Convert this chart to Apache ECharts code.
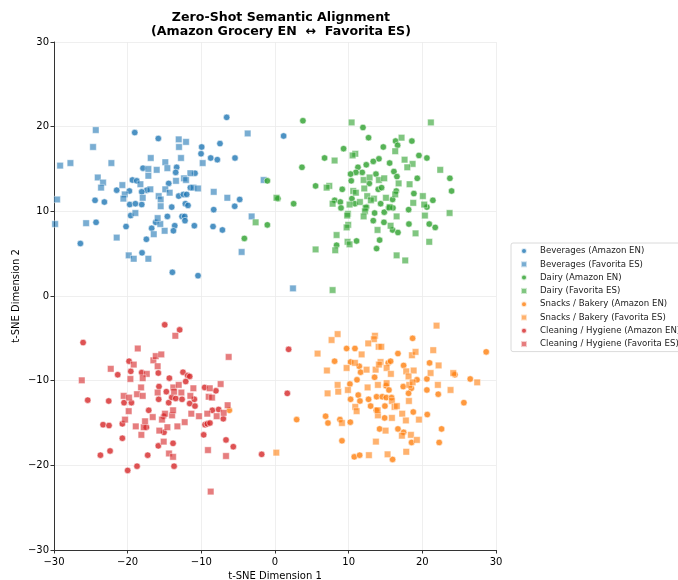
<!DOCTYPE html>
<html><head><meta charset="utf-8">
<script src="https://cdn.jsdelivr.net/npm/echarts@6/dist/echarts.min.js"></script>
<style>html,body{margin:0;padding:0;background:#fff}#c{width:678px;height:580px}</style>
</head><body><div id="c"></div>
<script>
const titleLines = ["Zero-Shot Semantic Alignment", "(Amazon Grocery EN  \u2194  Favorita ES)"];
const xName = "t-SNE Dimension 1";
const yName = "t-SNE Dimension 2";
const axisMin = -30, axisMax = 30, axisStep = 10;

const bevEN = [[-6.56,21.1],[-19.04,19.3],[-15.84,18.6],[-9.95,17.6],[-7.47,18.0],[-10.04,16.8],[-8.73,16.3],[-7.83,16.1],[-5.43,16.3],[-17.92,15.1],[-13.35,15.2],[-13.48,14.6],[-10.86,14.5],[-19.36,13.7],[-18.77,13.6],[-14.43,13.3],[-17.41,12.5],[-18.09,12.3],[-19.77,12.4],[-21.49,12.5],[-24.43,11.3],[-23.16,11.1],[-19.72,10.8],[-18.95,10.9],[-18.09,10.8],[-14.02,10.5],[-13.07,11.8],[-12.44,12.0],[-11.99,12.0],[-12.17,10.9],[-11.81,10.7],[-11.49,12.8],[-14.61,9.4],[-12.62,9.4],[-12.26,9.4],[-12.22,8.9],[-10.95,8.3],[-16.19,8.7],[-16.74,8.0],[-17.46,6.7],[-20.22,8.2],[-24.29,8.7],[-26.42,6.2],[-19.59,9.5],[-13.61,8.3],[-13.79,7.7],[-18.05,5.1],[-13.93,2.8],[-10.45,2.4],[-8.32,10.2],[-8.41,8.2],[-7.14,7.8],[-5.47,10.6],[-4.79,11.4],[1.17,18.9]];
const bevES = [[-24.33,19.6],[-24.7,17.6],[-29.17,15.4],[-27.77,15.7],[-22.21,15.7],[-24.06,14.0],[-23.34,13.4],[-23.61,12.8],[-20.72,13.1],[-20.4,12.0],[-20.58,11.5],[-17.96,11.6],[-17.19,15.0],[-17.19,14.2],[-16.06,14.9],[-14.89,15.8],[-14.61,15.1],[-16.87,16.3],[-13.07,18.5],[-12.08,18.2],[-13.03,17.6],[-12.76,16.3],[-9.82,15.7],[-11.49,14.5],[-12.35,13.9],[-13.44,13.6],[-12.08,13.7],[-11.08,12.8],[-10.45,12.7],[-8.32,12.3],[-14.89,12.6],[-14.3,12.2],[-15.79,11.8],[-15.52,11.4],[-15.52,10.6],[-16.92,12.6],[-18.27,13.2],[-29.58,11.4],[-25.64,8.6],[-29.85,8.5],[-21.49,6.9],[-19.86,4.8],[-19.18,4.4],[-17.19,4.4],[-16.46,7.3],[-14.98,7.7],[-15.57,8.5],[-15.93,9.2],[-18.95,9.8],[-6.47,11.6],[-3.71,19.2],[-1.54,13.7],[-3.17,9.4],[-4.53,5.2],[2.44,0.9]];
const dairyEN = [[3.79,20.7],[11.94,19.9],[12.7,18.7],[14.7,17.6],[16.37,18.3],[16.64,17.8],[18.58,18.3],[9.31,17.4],[6.73,16.3],[3.66,15.2],[19.54,16.6],[20.62,16.3],[14.11,16.2],[13.34,15.9],[12.39,15.5],[11.26,15.2],[15.56,15.7],[11.84,14.6],[10.98,14.6],[10.26,14.4],[13.7,14.4],[16.14,14.7],[16.55,14.1],[19.31,13.9],[23.74,13.9],[10.35,13.6],[12.8,13.3],[14.02,12.6],[14.47,12.8],[9.13,12.6],[5.51,13.0],[-1.04,13.6],[0.4,11.5],[2.53,10.9],[23.97,12.4],[18.85,12.1],[21.43,11.3],[16.46,12.4],[15.96,11.4],[10.44,11.5],[8.1,11.3],[8.87,11.1],[8.96,10.4],[10.85,10.9],[12.43,10.5],[14.34,10.9],[13.52,9.8],[14.83,9.9],[15.42,10.4],[16.01,10.4],[18.14,10.2],[20.62,10.5],[13.34,8.9],[14.79,8.7],[15.96,7.8],[16.69,7.5],[18.18,8.5],[20.94,8.5],[21.75,8.1],[-1.04,8.4],[14.2,6.6],[11.07,6.5],[8.36,6.0],[13.79,5.6],[-4.16,6.8]];
const dairyES = [[10.4,20.5],[21.16,20.5],[17.18,18.7],[16.32,17.1],[10.9,16.8],[10.53,16.6],[8.09,16.0],[17.59,16.1],[18.68,15.6],[17.96,15.2],[22.43,14.9],[12.03,13.7],[12.84,14.0],[14.11,13.7],[14.83,13.9],[16.78,13.3],[18.27,13.2],[7.37,13.0],[7.01,12.8],[12.12,12.7],[10.62,12.4],[10.98,12.2],[12.52,11.8],[13.43,11.5],[13.02,11.3],[15.06,11.6],[16.32,12.0],[20.07,11.8],[18.77,11.0],[20.26,10.8],[10.12,10.8],[11.53,11.1],[7.82,10.9],[12.3,10.4],[12.21,10.0],[12.03,9.4],[9.9,9.7],[9.8,9.5],[15.56,10.5],[16.51,9.4],[20.35,9.5],[23.7,9.8],[15.69,8.3],[9.94,8.4],[9.72,8.1],[13.92,7.8],[8.36,7.2],[19.08,7.4],[9.85,6.4],[10.12,6.1],[20.94,6.4],[5.51,5.5],[8.18,5.4],[16.51,4.8],[17.68,4.2],[7.82,0.7],[-2.63,8.7],[0.2,11.6]];
const snackEN = [[18.68,-5.0],[9.72,-6.2],[10.85,-6.2],[16.69,-6.8],[8.09,-7.7],[10.26,-7.8],[11.44,-8.3],[11.62,-9.0],[15.37,-7.9],[15.69,-7.7],[17.46,-8.2],[20.98,-7.9],[24.42,-9.3],[28.67,-6.6],[11.13,-9.9],[13.52,-9.6],[10.17,-10.4],[15.06,-10.6],[15.47,-11.1],[17.41,-10.7],[18.5,-10.9],[19.27,-9.9],[20.62,-9.8],[20.62,-11.1],[22.16,-11.6],[26.5,-9.8],[25.64,-12.6],[18.13,-11.5],[11.3,-11.7],[10.26,-12.2],[11.53,-12.4],[12.7,-12.2],[13.79,-11.9],[14.56,-11.9],[15.1,-12.0],[15.82,-12.0],[12.98,-13.0],[13.75,-13.5],[14.92,-13.0],[18.77,-13.7],[20.67,-14.0],[14.88,-14.4],[6.87,-14.2],[7.19,-15.0],[8.82,-14.6],[10.22,-14.9],[2.94,-14.6],[14.2,-15.7],[16.69,-15.7],[17.46,-16.1],[22.61,-15.7],[9.09,-17.1],[18.54,-17.3],[22.29,-17.3],[10.76,-19.0],[11.49,-18.8],[15.96,-19.3],[-6.2,-13.5]];
const snackES = [[21.93,-3.5],[8.5,-4.5],[7.68,-5.2],[13.57,-4.7],[13.43,-5.1],[12.66,-5.6],[14.07,-6.0],[14.43,-6.0],[5.78,-6.8],[11.76,-6.9],[18.59,-7.0],[19.08,-6.6],[21.48,-6.4],[7.05,-8.8],[9.72,-8.5],[10.85,-7.9],[12.43,-8.7],[13.66,-8.7],[14.33,-7.8],[14.11,-8.1],[15.15,-8.5],[15.73,-9.2],[17.82,-8.9],[18.82,-8.8],[18.13,-9.5],[21.12,-9.1],[22.21,-8.2],[24.2,-9.1],[27.45,-10.2],[8.5,-10.5],[8.59,-11.3],[9.9,-11.1],[7.14,-11.5],[12.57,-10.8],[13.97,-10.5],[15.15,-10.3],[18.23,-10.5],[18.68,-10.2],[22.11,-10.5],[23.83,-11.1],[15.87,-12.4],[18.18,-12.4],[10.9,-13.1],[11.08,-13.6],[13.97,-14.1],[13.93,-13.5],[16.23,-13.1],[16.54,-13.0],[17.27,-13.9],[17.77,-14.7],[19.54,-14.6],[15.87,-14.4],[9.09,-15.0],[15.01,-15.9],[17.23,-16.5],[18.45,-16.4],[19.26,-17.0],[13.7,-17.2],[15.28,-18.7],[17.82,-18.4],[12.75,-18.8],[0.18,-18.5]];
const cleanEN = [[-14.97,-3.4],[-12.94,-4.0],[-26.05,-5.5],[-19.81,-7.7],[-19.58,-8.9],[-21.35,-9.3],[-18.1,-9.05],[-15.84,-9.1],[-14.34,-9.7],[-12.49,-9.0],[-11.86,-9.4],[-11.58,-9.5],[-12.12,-10.1],[-15.75,-10.7],[-14.75,-11.3],[-9.55,-10.8],[-8.02,-11.2],[-25.42,-12.3],[-22.57,-12.4],[-20.49,-12.6],[-19.49,-12.6],[-15.79,-12.2],[-14.43,-12.6],[-14.02,-11.97],[-13.48,-12.1],[-12.62,-12.2],[-11.58,-12.7],[-10.95,-12.2],[-10.86,-13.0],[-17.14,-13.5],[-15.11,-14.2],[-8.51,-13.5],[-7.65,-13.4],[-7.02,-14.5],[-23.34,-15.2],[-22.53,-15.3],[-20.72,-15.1],[-17.46,-15.5],[-15.07,-16.1],[-9.5,-15.2],[-9.19,-15.1],[-8.83,-15.0],[-20.72,-16.8],[-9.68,-16.4],[-15.84,-17.7],[-13.84,-17.4],[-6.65,-17.0],[-5.66,-17.8],[-23.7,-18.8],[-22.39,-18.3],[-17.28,-18.8],[-18.73,-20.1],[-20.0,-20.6],[-13.7,-20.1],[-1.81,-18.7],[1.85,-6.3],[1.67,-11.5]];
const cleanES = [[-13.53,-4.7],[-18.63,-6.2],[-6.29,-7.2],[-26.23,-9.96],[-22.3,-8.6],[-19.18,-8.1],[-16.51,-7.6],[-16.19,-7.1],[-15.43,-6.9],[-15.93,-8.3],[-17.41,-9.2],[-19.63,-9.8],[-17.96,-9.7],[-18.18,-10.8],[-18.73,-11.6],[-17.96,-11.8],[-20.54,-11.8],[-19.81,-12.0],[-19.86,-13.6],[-20.36,-14.6],[-18.9,-15.4],[-17.82,-15.5],[-18.14,-16.4],[-17.64,-14.8],[-16.6,-14.3],[-15.7,-15.9],[-14.61,-15.5],[-13.25,-15.4],[-12.26,-14.9],[-15.34,-14.6],[-13.97,-14.1],[-13.84,-13.5],[-14.93,-13.9],[-15.93,-11.4],[-13.8,-10.8],[-13.07,-10.5],[-13.7,-11.3],[-12.71,-11.4],[-11.49,-11.8],[-11.08,-10.9],[-11.36,-13.9],[-10.32,-14.2],[-9.19,-13.9],[-8.86,-10.9],[-9.0,-11.9],[-8.55,-12.0],[-7.38,-10.4],[-7.92,-14.2],[-6.97,-13.8],[-6.43,-12.9],[-15.11,-17.2],[-14.39,-18.6],[-13.84,-19.0],[-9.1,-18.2],[-6.65,-18.9],[-8.73,-23.1]];

const seriesNames = ["Beverages (Amazon EN)","Beverages (Favorita ES)","Dairy (Amazon EN)","Dairy (Favorita ES)","Snacks / Bakery (Amazon EN)","Snacks / Bakery (Favorita ES)","Cleaning / Hygiene (Amazon EN)","Cleaning / Hygiene (Favorita ES)"];
const seriesData = [bevEN, bevES, dairyEN, dairyES, snackEN, snackES, cleanEN, cleanES];
const seriesColors = ["#1f77b4","#1f77b4","#2ca02c","#2ca02c","#ff7f0e","#ff7f0e","#d62728","#d62728"];

const FONT = "DejaVu Sans";
const fmt = v => String(v).replace('-', '\u2212');

const series = seriesNames.map((n, i) => {
  const isSq = i % 2 === 1;
  return {
    name: n, type: 'scatter', data: seriesData[i],
    symbol: isSq ? 'rect' : 'circle',
    symbolSize: 6.5,
    itemStyle: { color: seriesColors[i], opacity: isSq ? 0.6 : 0.8, borderColor: '#fff', borderWidth: 0.7 },
    emphasis: { disabled: true }
  };
});

const axisCommon = {
  type: 'value', min: axisMin, max: axisMax, interval: axisStep,
  nameLocation: 'middle',
  nameTextStyle: { fontFamily: FONT, fontSize: 10, color: '#000' },
  axisLine: { show: true, onZero: false, lineStyle: { color: '#333', width: 1 } },
  axisTick: { show: true, length: 3.5, lineStyle: { color: '#333' } },
  axisLabel: { fontFamily: FONT, fontSize: 10, color: '#000', margin: 5, formatter: fmt },
  splitLine: { show: true, lineStyle: { color: '#ebebeb', width: 0.8 } }
};

const chart = echarts.init(document.getElementById('c'), null, { renderer: 'canvas' });
chart.setOption({
  animation: false,
  backgroundColor: '#fff',
  textStyle: { fontFamily: FONT },
  title: {
    text: titleLines.join('\n'), left: 276, top: 6, textAlign: 'center',
    textStyle: { fontFamily: FONT, fontWeight: 'bold', fontSize: 12.6, color: '#000', lineHeight: 14 }
  },
  grid: { left: 54, right: 182, top: 42, bottom: 30, containLabel: false, outerBoundsMode: 'none' },
  legend: {
    orient: 'vertical', left: 511, top: 243,
    data: seriesNames.map((n, i) => ({ name: n, icon: i % 2 ? 'rect' : 'circle', itemStyle: { opacity: i % 2 ? 0.6 : 0.8 } })),
    itemWidth: 6, itemHeight: 6, itemGap: 4.3,
    textStyle: { fontFamily: FONT, fontSize: 8.6, color: '#222', padding: [0, 0, 0, 8] },
    borderColor: '#d0d0d0', borderWidth: 0.8, borderRadius: 2, padding: [3.5, 6, 3, 9],
    backgroundColor: 'rgba(255,255,255,0.8)'
  },
  xAxis: Object.assign({}, axisCommon, { name: xName, nameGap: 21,
    axisLabel: Object.assign({}, axisCommon.axisLabel, { margin: 7 }) }),
  yAxis: Object.assign({}, axisCommon, { name: yName, nameGap: 32.5, nameMoveOverlap: false }),
  series: series
});
</script></body></html>
